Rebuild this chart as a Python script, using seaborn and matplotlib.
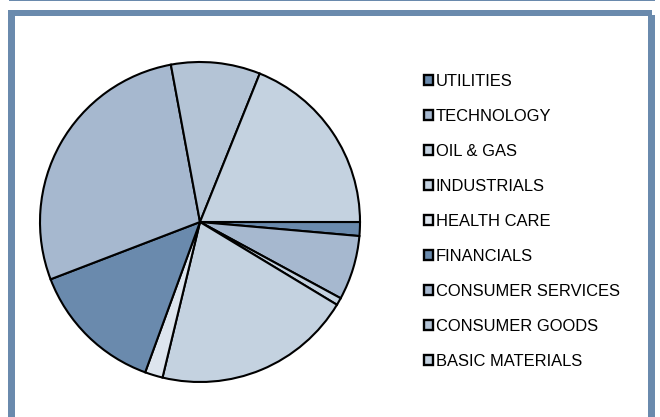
import matplotlib
matplotlib.use("Agg")
import matplotlib.pyplot as plt
import matplotlib.patches as mpatches
import seaborn as sns

# sector weights, in clockwise order starting at 3 o'clock
sectors = ["UTILITIES", "TECHNOLOGY", "OIL & GAS", "INDUSTRIALS", "HEALTH CARE",
           "FINANCIALS", "CONSUMER SERVICES", "CONSUMER GOODS", "BASIC MATERIALS"]
weights = [1.4, 6.5, 0.75, 20.1, 1.8, 13.6, 27.9, 9.0, 18.9]
sector_colors = ["#6a8aad", "#a6b8cf", "#c4d2e0", "#c4d2e0", "#dde5ee",
                 "#6a8aad", "#a6b8cf", "#b4c4d6", "#c4d2e0"]

frame_color = "#6a8aad"

sns.set_theme(style="white")
plt.rcParams["font.family"] = ["Liberation Sans", "DejaVu Sans"]
plt.rcParams["text.color"] = "black"

W, H = 660, 417
fig = plt.figure(figsize=(W / 100, H / 100), dpi=100)
fig.patch.set_facecolor("white")

# frame around the chart area
def px_rect(x0, y0, x1, y1, **kw):
    return mpatches.Rectangle((x0 / W, 1 - y1 / H), (x1 - x0) / W, (y1 - y0) / H,
                              transform=fig.transFigure, **kw)

fig.patches.append(px_rect(9, 0, 655, 1.2, color=frame_color, lw=0))
fig.patches.append(px_rect(8, 10, 652, 16, color=frame_color, lw=0))
fig.patches.append(px_rect(8, 10, 15, 417, color=frame_color, lw=0))
fig.patches.append(px_rect(648, 15, 655, 417, color=frame_color, lw=0))

# pie axes: centre (200, 222) px, radius 160 px
cx, cy, half = 200, 222, 165
ax = fig.add_axes([(cx - half) / W, 1 - (cy + half) / H, 2 * half / W, 2 * half / H])
wedges, _ = ax.pie(weights, colors=sector_colors, startangle=0, counterclock=False,
                   radius=160, wedgeprops=dict(edgecolor="black", linewidth=1.5))
ax.set_xlim(-half, half)
ax.set_ylim(-half, half)
ax.axis("off")

leg = fig.legend(wedges, sectors, loc="upper left",
                 bbox_to_anchor=(424 / W, 1 - 74 / H), frameon=False,
                 fontsize=11.9, handlelength=0.55, handleheight=0.55,
                 handletextpad=0.15, labelspacing=1.21, borderpad=0, borderaxespad=0)
for h in leg.legend_handles:
    h.set_linewidth(1.7)

fig.savefig("out.png", dpi=100)
